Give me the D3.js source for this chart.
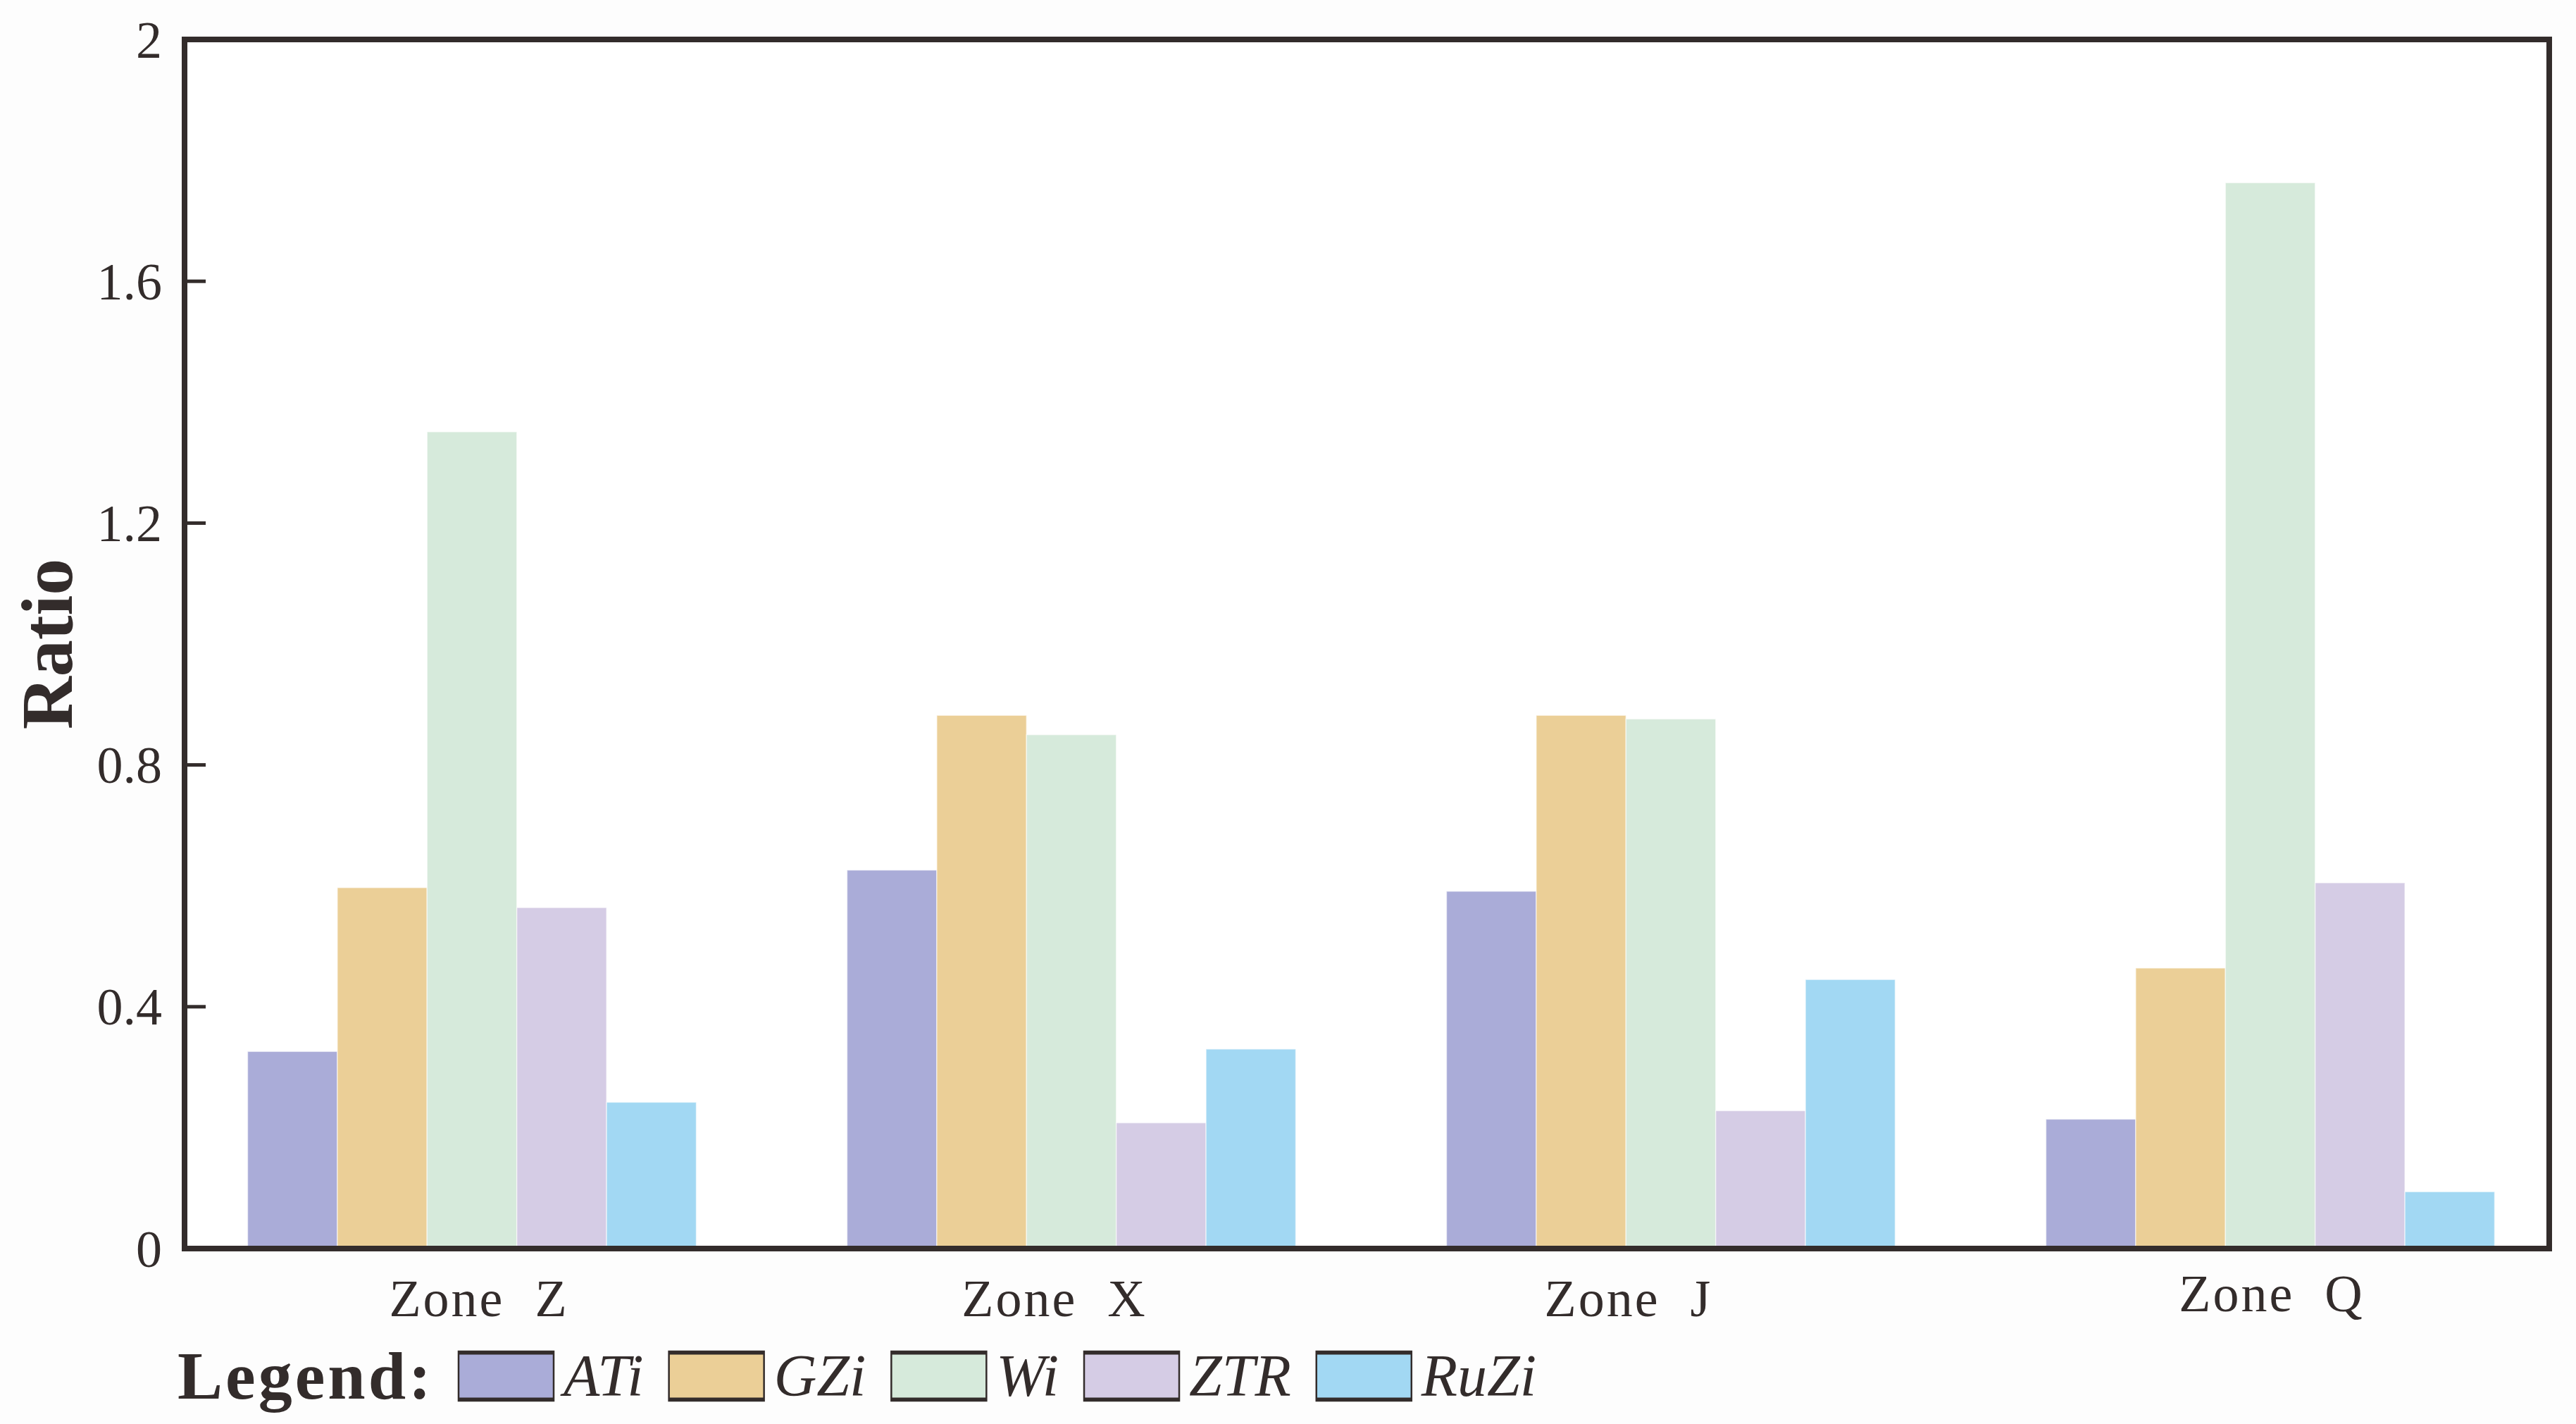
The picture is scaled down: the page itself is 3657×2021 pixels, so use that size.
<!DOCTYPE html>
<html>
<head>
<meta charset="utf-8">
<script src="https://cdn.jsdelivr.net/npm/d3@7"></script>
<style>
  html, body { margin: 0; padding: 0; background: #fdfdfd; }
  svg { display: block; }
</style>
</head>
<body>
<svg id="chart" width="3657" height="2021"></svg>
<script>
// ---- data ----
const zones = ["Zone  Z", "Zone  X", "Zone  J", "Zone  Q"];
const seriesNames = ["ATi", "GZi", "Wi", "ZTR", "RuZi"];
const ATi  = [0.326, 0.626, 0.591, 0.214];
const GZi  = [0.597, 0.882, 0.882, 0.464];
const Wi   = [1.351, 0.850, 0.876, 1.763];
const ZTR  = [0.564, 0.208, 0.228, 0.605];
const RuZi = [0.242, 0.330, 0.445, 0.094];
const yTicks = [0, 0.4, 0.8, 1.2, 1.6, 2];
const colors = ["#aaacd8", "#ebcf97", "#d6eadb", "#d5cce5", "#a2d8f3"];

const seriesValues = [ATi, GZi, Wi, ZTR, RuZi];

// ---- layout ----
const svg = d3.select("#chart");
const L = 262, R = 3619, T = 56, B = 1772;
const serif = "'Liberation Serif', 'Times New Roman', serif";
const ink = "#332c2b";

const y = d3.scaleLinear().domain([0, 2]).range([B, T]);
const x0 = d3.scalePoint().domain(zones).range([670, 3223]);
const groupW = 637;
const x1 = d3.scaleBand().domain(seriesNames).range([-groupW / 2, groupW / 2]);
const color = d3.scaleOrdinal().domain(seriesNames).range(colors);

// plot background
svg.append("rect").attr("x", L).attr("y", T).attr("width", R - L).attr("height", B - T).attr("fill", "#ffffff");

// bars
const table = [];
zones.forEach((z, zi) => seriesNames.forEach((s, si) => table.push({ zone: z, series: s, value: seriesValues[si][zi] })));

svg.append("g").selectAll("rect").data(table).join("rect")
  .attr("x", d => x0(d.zone) + x1(d.series))
  .attr("y", d => y(d.value))
  .attr("width", x1.bandwidth())
  .attr("height", d => y(0) - y(d.value))
  .attr("fill", d => color(d.series))
  .attr("stroke", "#ffffff")
  .attr("stroke-opacity", 0.55)
  .attr("stroke-width", 1.5);

// y axis (inner ticks, labels)
const yAxis = d3.axisLeft(y).tickValues(yTicks).tickSize(0).tickPadding(32).tickFormat(d => d3.format("")(d));
const gy = svg.append("g").attr("transform", `translate(${L},0)`).call(yAxis);
gy.select(".domain").remove();
gy.selectAll("text").attr("font-family", serif).attr("font-size", 74).attr("fill", ink).attr("dy", "0.34em");

// inner tick marks
svg.append("g").selectAll("line").data(yTicks.filter(t => t > 0 && t < 2)).join("line")
  .attr("x1", L).attr("x2", L + 30)
  .attr("y1", d => y(d)).attr("y2", d => y(d))
  .attr("stroke", ink).attr("stroke-width", 5);

// frame
svg.append("rect").attr("x", L).attr("y", T).attr("width", R - L).attr("height", B - T)
  .attr("fill", "none").attr("stroke", ink).attr("stroke-width", 8);

// y title
svg.append("text")
  .attr("transform", `translate(102,${(T + B) / 2}) rotate(-90)`)
  .attr("text-anchor", "middle")
  .attr("font-family", serif).attr("font-weight", "bold").attr("font-size", 104)
  .attr("fill", ink).text("Ratio");

// x category labels
const labelDx = [10, -24, -60, 2];
const labelDy = [0, 0, 0, -7];
svg.append("g").selectAll("text").data(zones).join("text")
  .attr("x", (d, i) => x0(d) + labelDx[i])
  .attr("y", (d, i) => 1868 + labelDy[i])
  .attr("text-anchor", "middle")
  .attr("font-family", serif).attr("font-size", 74)
  .attr("letter-spacing", 3)
  .attr("fill", ink)
  .style("white-space", "pre")
  .text(d => d);

// legend
const legY = 1985;
svg.append("text").attr("x", 252).attr("y", legY)
  .attr("font-family", serif).attr("font-weight", "bold").attr("font-size", 96)
  .attr("letter-spacing", 4).attr("fill", ink).text("Legend:");

let lx = 651;
const boxW = 135, boxH = 70, boxY = 1918;
seriesNames.forEach((s, i) => {
  const g = svg.append("g");
  g.append("rect").attr("x", lx).attr("y", boxY).attr("width", boxW).attr("height", boxH)
    .attr("fill", color(s)).attr("stroke", ink).attr("stroke-width", 2.5);
  g.append("line").attr("x1", lx).attr("x2", lx + boxW).attr("y1", boxY + 2).attr("y2", boxY + 2)
    .attr("stroke", ink).attr("stroke-width", 5);
  g.append("line").attr("x1", lx).attr("x2", lx + boxW).attr("y1", boxY + boxH - 2).attr("y2", boxY + boxH - 2)
    .attr("stroke", ink).attr("stroke-width", 5);
  const t = g.append("text").attr("x", lx + boxW + 14).attr("y", legY - 4)
    .attr("font-family", serif).attr("font-style", "italic").attr("font-size", 84)
    .attr("fill", ink).text(s);
  const w = t.node().getComputedTextLength();
  lx = lx + boxW + 14 + w + 36;
});
</script>
</body>
</html>
